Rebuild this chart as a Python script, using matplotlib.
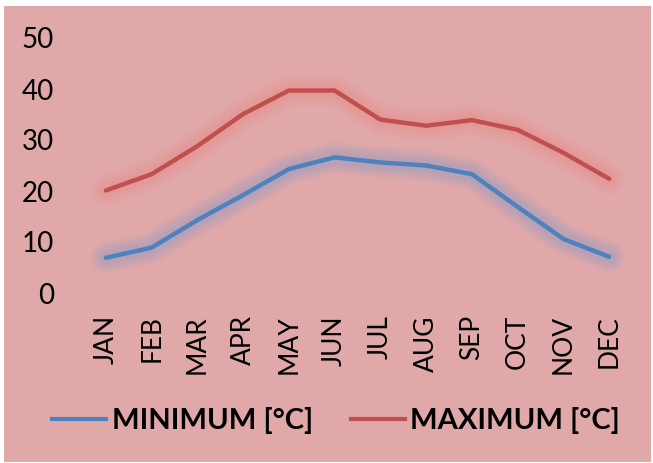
import matplotlib
matplotlib.use("Agg")
import matplotlib.pyplot as plt
from matplotlib.patches import Rectangle
from matplotlib.lines import Line2D

months = ["JAN", "FEB", "MAR", "APR", "MAY", "JUN", "JUL", "AUG", "SEP", "OCT", "NOV", "DEC"]
t_min = [6.9, 8.9, 14.3, 19.2, 24.3, 26.6, 25.6, 25.0, 23.3, 16.9, 10.6, 7.1]
t_max = [20.1, 23.3, 28.8, 35.1, 39.7, 39.7, 34.0, 32.8, 33.9, 32.0, 27.5, 22.4]
y_ticks = [0, 10, 20, 30, 40, 50]

series = [
    ("MINIMUM [°C]", t_min, "#4F81BD", "#8E9CC8"),
    ("MAXIMUM [°C]", t_max, "#C0504D", "#EC8C8C"),
]

plt.rcParams["font.family"] = ["Lato", "DejaVu Sans"]

W, H = 653, 463
fig = plt.figure(figsize=(W / 100, H / 100), dpi=100, facecolor="white")
fig.patches.append(Rectangle((4 / W, 1 / H), 647 / W, 456 / H,
                             transform=fig.transFigure, facecolor="#E0A8A8",
                             edgecolor="none", zorder=-5))

ax = fig.add_axes([83 / W, (H - 293) / H, (632 - 83) / W, (293 - 38) / H])
ax.set_facecolor("none")
x = list(range(len(months)))

for name, vals, color, glow in series:
    # soft halo behind each line
    for lw in [22, 18, 14, 11, 8]:
        ax.plot(x, vals, color=glow, lw=lw, alpha=0.12,
                solid_capstyle="round", solid_joinstyle="round", zorder=2)
    ax.plot(x, vals, color=color, lw=3.2, solid_capstyle="round",
            solid_joinstyle="round", zorder=3)

ax.set_xlim(-0.5, len(months) - 0.5)
ax.set_ylim(0, 50)
ax.set_yticks(y_ticks)
ax.set_yticklabels([str(v) for v in y_ticks], fontsize=20)
ax.set_xticks(x)
ax.set_xticklabels(months, rotation=90, fontsize=19, va="top")
ax.tick_params(axis="y", length=0, pad=21)
ax.tick_params(axis="x", length=0, pad=16)
for s in ax.spines.values():
    s.set_visible(False)

handles = [Line2D([0], [0], color=c, lw=3) for _, _, c, _ in series]
leg = fig.legend(handles, [n for n, _, _, _ in series],
                 loc="center", bbox_to_anchor=(336 / W, (H - 421) / H),
                 ncol=2, frameon=False, handlelength=1.85, handletextpad=0.2,
                 columnspacing=1.3, borderpad=0, borderaxespad=0,
                 prop={"weight": "bold", "size": 21})

fig.savefig("out.png", dpi=100, facecolor="white")
